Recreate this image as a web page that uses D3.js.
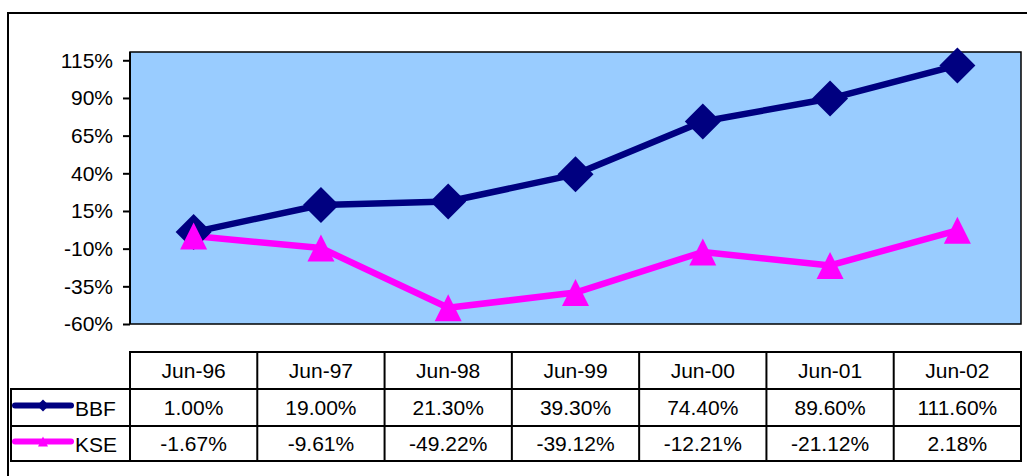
<!DOCTYPE html>
<html>
<head>
<meta charset="utf-8">
<script src="https://cdn.jsdelivr.net/npm/d3@7"></script>
<style>
  body { margin: 0; background: #fff; }
  svg { display: block; font-family: Arial, "Liberation Sans", sans-serif; }
</style>
</head>
<body>
<svg id="chart"></svg>
<script>
// chart data
const categories = ["Jun-96", "Jun-97", "Jun-98", "Jun-99", "Jun-00", "Jun-01", "Jun-02"];
const bbf = [1.00, 19.00, 21.30, 39.30, 74.40, 89.60, 111.60];
const kse = [-1.67, -9.61, -49.22, -39.12, -12.21, -21.12, 2.18];
const yTicks = [-60, -35, -10, 15, 40, 65, 90, 115];

const w = 1027, h = 476;
const plotLeft = 130, plotRight = 1021, plotTop = 52, plotBottom = 324;
const fontSize = "21px";

const svg = d3.select("#chart").attr("width", w).attr("height", h);

// outer frame
svg.append("rect")
   .attr("x", 8).attr("y", 13)
   .attr("width", w + 20).attr("height", h + 20)
   .attr("fill", "#fff").attr("stroke", "#000").attr("stroke-width", 2);

const xScale = d3.scaleBand().domain(categories).range([plotLeft, plotRight]);
const yScale = d3.scaleLinear().domain([-60, 120.5]).range([plotBottom, plotTop]);

// plot area
svg.append("rect")
   .attr("x", plotLeft).attr("y", plotTop)
   .attr("width", plotRight - plotLeft).attr("height", plotBottom - plotTop)
   .attr("fill", "#99CCFF").attr("stroke", "#000").attr("stroke-width", 1.5);

// y axis
const yAxis = d3.axisLeft(yScale)
   .tickValues(yTicks)
   .tickSize(7)
   .tickPadding(10)
   .tickFormat(d => d + "%");

const ga = svg.append("g")
   .attr("transform", "translate(" + plotLeft + ",0)")
   .call(yAxis);
ga.select(".domain").attr("stroke", "#000").attr("stroke-width", 2).attr("d", "M0," + plotTop + "V" + plotBottom);
ga.selectAll(".tick line").attr("stroke", "#000").attr("stroke-width", 2);
ga.selectAll(".tick text").attr("fill", "#000").style("font-size", fontSize);

const cx = c => xScale(c) + xScale.bandwidth() / 2;

const series = [
  { name: "BBF", values: bbf, color: "#000080", shape: "diamond" },
  { name: "KSE", values: kse, color: "#FF00FF", shape: "triangle" }
];

const line = d3.line()
   .x((d, i) => cx(categories[i]))
   .y(d => yScale(d));

function markerPath(shape, s) {
  if (shape == "diamond") {
    return "M0," + (-s) + "L" + s + ",0L0," + s + "L" + (-s) + ",0Z";
  }
  return "M0," + (-s) + "L" + s + "," + s + "L" + (-s) + "," + s + "Z";
}

series.forEach(sr => {
  svg.append("path")
     .datum(sr.values)
     .attr("d", line)
     .attr("fill", "none")
     .attr("stroke", sr.color)
     .attr("stroke-width", 6.5)
     .attr("stroke-linejoin", "round");
});

series.forEach(sr => {
  svg.selectAll(null)
     .data(sr.values)
     .enter()
     .append("path")
     .attr("transform", (d, i) => "translate(" + cx(categories[i]) + "," + yScale(d) + ")")
     .attr("d", markerPath(sr.shape, sr.shape == "diamond" ? 18 : 13.5))
     .attr("fill", sr.color);
});

// data table
const rowTop = 352, rowH = [37, 37, 35];
const legendLeft = 11;
const rowY = [rowTop, rowTop + rowH[0], rowTop + rowH[0] + rowH[1], rowTop + rowH[0] + rowH[1] + rowH[2]];

const tbl = svg.append("g");

tbl.append("rect")
   .attr("x", plotLeft).attr("y", rowY[0])
   .attr("width", plotRight - plotLeft).attr("height", rowY[3] - rowY[0])
   .attr("fill", "none").attr("stroke", "#000").attr("stroke-width", 2);
tbl.append("rect")
   .attr("x", legendLeft).attr("y", rowY[1])
   .attr("width", plotRight - legendLeft).attr("height", rowY[3] - rowY[1])
   .attr("fill", "none").attr("stroke", "#000").attr("stroke-width", 2);
tbl.append("line")
   .attr("x1", legendLeft).attr("x2", plotRight)
   .attr("y1", rowY[2]).attr("y2", rowY[2])
   .attr("stroke", "#000").attr("stroke-width", 2);

categories.forEach((c, i) => {
  if (i > 0) {
    tbl.append("line")
       .attr("x1", xScale(c)).attr("x2", xScale(c))
       .attr("y1", rowY[0]).attr("y2", rowY[3])
       .attr("stroke", "#000").attr("stroke-width", 2);
  }
  tbl.append("text")
     .attr("x", cx(c)).attr("y", (rowY[0] + rowY[1]) / 2 + 7)
     .attr("text-anchor", "middle")
     .style("font-size", fontSize)
     .text(c);
});

series.forEach((sr, r) => {
  const yMid = (rowY[r + 1] + rowY[r + 2]) / 2;
  sr.values.forEach((v, i) => {
    tbl.append("text")
       .attr("x", cx(categories[i])).attr("y", yMid + 7)
       .attr("text-anchor", "middle")
       .style("font-size", fontSize)
       .text(v.toFixed(2) + "%");
  });
  // legend key
  tbl.append("line")
     .attr("x1", 15).attr("x2", 71)
     .attr("y1", yMid - 2).attr("y2", yMid - 2)
     .attr("stroke", sr.color).attr("stroke-width", 6)
     .attr("stroke-linecap", "round");
  tbl.append("path")
     .attr("transform", "translate(43," + (yMid - 2) + ")")
     .attr("d", markerPath(sr.shape, sr.shape == "diamond" ? 6 : 5))
     .attr("fill", sr.color);
  tbl.append("text")
     .attr("x", 75).attr("y", yMid + 8)
     .style("font-size", fontSize)
     .text(sr.name);
});
</script>
</body>
</html>
